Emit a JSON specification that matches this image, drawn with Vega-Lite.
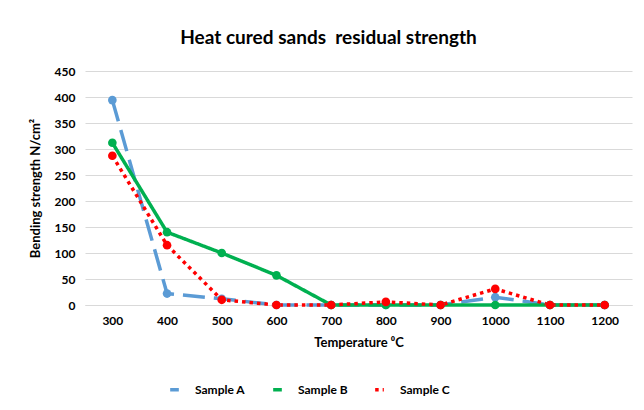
{
  "$schema": "https://vega.github.io/schema/vega-lite/v6.json",
  "width": 547,
  "height": 234,
  "autosize": {"type": "none"},
  "padding": {"left": 85, "top": 71, "right": 12, "bottom": 105},
  "background": "white",
  "title": {
    "text": "Heat cured sands\u00a0 residual strength",
    "font": "Lato",
    "fontSize": 19,
    "fontWeight": "bold",
    "color": "#000000",
    "anchor": "middle",
    "dx": -30,
    "offset": 17
  },
  "data": {
    "values": [
      {"sample": "Sample A", "temp": 300, "value": 394},
      {"sample": "Sample A", "temp": 400, "value": 22},
      {"sample": "Sample A", "temp": 500, "value": 12},
      {"sample": "Sample A", "temp": 600, "value": 0},
      {"sample": "Sample A", "temp": 700, "value": 0},
      {"sample": "Sample A", "temp": 800, "value": 0},
      {"sample": "Sample A", "temp": 900, "value": 0},
      {"sample": "Sample A", "temp": 1000, "value": 15},
      {"sample": "Sample A", "temp": 1100, "value": 0},
      {"sample": "Sample A", "temp": 1200, "value": 0},
      {"sample": "Sample B", "temp": 300, "value": 312},
      {"sample": "Sample B", "temp": 400, "value": 140},
      {"sample": "Sample B", "temp": 500, "value": 100},
      {"sample": "Sample B", "temp": 600, "value": 57},
      {"sample": "Sample B", "temp": 700, "value": 0},
      {"sample": "Sample B", "temp": 800, "value": 0},
      {"sample": "Sample B", "temp": 900, "value": 0},
      {"sample": "Sample B", "temp": 1000, "value": 0},
      {"sample": "Sample B", "temp": 1100, "value": 0},
      {"sample": "Sample B", "temp": 1200, "value": 0},
      {"sample": "Sample C", "temp": 300, "value": 287},
      {"sample": "Sample C", "temp": 400, "value": 115},
      {"sample": "Sample C", "temp": 500, "value": 10},
      {"sample": "Sample C", "temp": 600, "value": 0},
      {"sample": "Sample C", "temp": 700, "value": 0},
      {"sample": "Sample C", "temp": 800, "value": 6},
      {"sample": "Sample C", "temp": 900, "value": 0},
      {"sample": "Sample C", "temp": 1000, "value": 31},
      {"sample": "Sample C", "temp": 1100, "value": 0},
      {"sample": "Sample C", "temp": 1200, "value": 0}
    ]
  },
  "encoding": {
    "x": {
      "field": "temp",
      "type": "ordinal",
      "scale": {"type": "point", "padding": 0.5},
      "axis": {
        "title": "Temperature ⁰C",
        "labelAngle": 0,
        "ticks": false,
        "domainColor": "#D9D9D9",
        "labelPadding": 10,
        "titlePadding": 10
      }
    },
    "y": {
      "field": "value",
      "type": "quantitative",
      "scale": {"domain": [0, 450]},
      "axis": {
        "title": "Bending strength N/cm²",
        "values": [0, 50, 100, 150, 200, 250, 300, 350, 400, 450],
        "ticks": false,
        "domain": false,
        "labelPadding": 10,
        "titlePadding": 12,
        "gridColor": "#D9D9D9"
      }
    },
    "color": {
      "field": "sample",
      "type": "nominal",
      "scale": {"domain": ["Sample A", "Sample B", "Sample C"], "range": ["#5B9BD5", "#00B050", "#FF0000"]},
      "legend": {
        "title": null,
        "orient": "none",
        "direction": "horizontal",
        "legendX": 83,
        "legendY": 312,
        "symbolType": "stroke",
        "symbolStrokeWidth": 3.5,
        "symbolSize": 2000,
        "labelOffset": 14,
        "columnPadding": 20,
        "labelFont": "Lato",
        "labelFontSize": 12,
        "labelFontWeight": "bold",
        "labelColor": "#000000"
      }
    }
  },
  "layer": [
    {
      "mark": {"type": "line", "strokeWidth": 3.5, "strokeCap": "butt"},
      "encoding": {
        "strokeDash": {
          "field": "sample",
          "type": "nominal",
          "scale": {"domain": ["Sample A", "Sample B", "Sample C"], "range": [[22, 9], [1, 0], [3.5, 4]]},
          "legend": {
            "title": null,
            "orient": "none",
            "direction": "horizontal",
            "legendX": 83,
            "legendY": 312,
            "symbolType": "stroke",
            "symbolStrokeWidth": 3.5,
            "symbolSize": 2000,
            "labelOffset": 14,
            "columnPadding": 20,
            "labelFont": "Lato",
            "labelFontSize": 12,
            "labelFontWeight": "bold",
            "labelColor": "#000000"
          }
        }
      }
    },
    {
      "mark": {"type": "point", "filled": true, "opacity": 1},
      "encoding": {
        "size": {
          "field": "sample",
          "type": "nominal",
          "scale": {"domain": ["Sample A", "Sample B", "Sample C"], "range": [75, 75, 120]},
          "legend": null
        }
      }
    }
  ],
  "config": {
    "view": {"stroke": null},
    "axis": {
      "labelFont": "Lato",
      "labelFontSize": 12,
      "labelFontWeight": "bold",
      "labelColor": "#000000",
      "titleFont": "Lato",
      "titleFontSize": 13,
      "titleFontWeight": "bold",
      "titleColor": "#000000"
    }
  }
}
